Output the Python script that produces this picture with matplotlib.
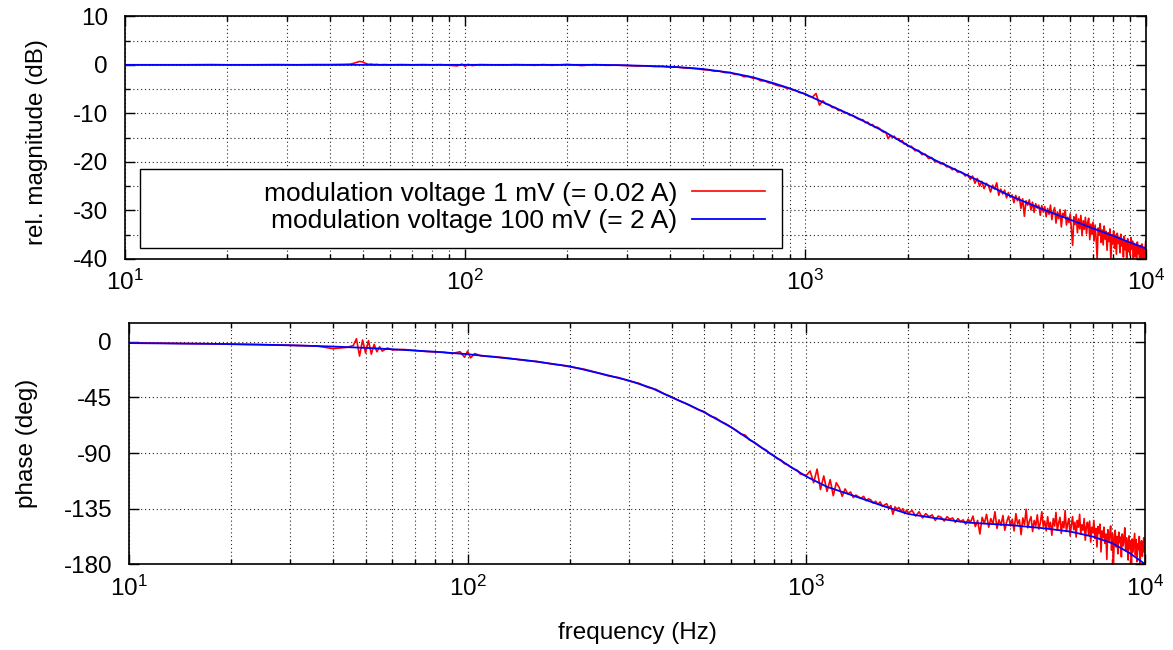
import matplotlib
matplotlib.use("Agg")
import matplotlib.pyplot as plt
from matplotlib.ticker import MultipleLocator, LogLocator, NullLocator, NullFormatter, LogFormatterSciNotation
from matplotlib.patches import Rectangle

plt.rcParams['font.family'] = ['Liberation Sans', 'DejaVu Sans']
plt.rcParams['mathtext.fontset'] = 'custom'
plt.rcParams['mathtext.rm'] = 'Liberation Sans'
plt.rcParams['mathtext.default'] = 'regular'
plt.rcParams['axes.unicode_minus'] = False

# ---------------- data ----------------
label_red = "modulation voltage 1 mV (= 0.02 A)"
label_blue = "modulation voltage 100 mV (= 2 A)"

freq_blue = [10, 20, 30, 40, 50, 60, 80, 100, 150, 200, 250, 300, 350, 400, 450, 500,
             600, 700, 800, 900, 1000, 1150, 1400, 1700, 2000, 2400, 3000, 4000, 5000,
             6000, 7000, 8000, 9000, 10000]
mag_blue = [0.0, 0.0, 0.0, 0.0, 0.0, 0.0, 0.0, 0.0, 0.0, 0.0, 0.0, -0.1, -0.25, -0.38, -0.6, -0.86,
            -1.6, -2.55, -3.7, -4.85, -6.05, -8.0, -10.7, -13.7, -16.6, -19.6, -22.8, -27.0, -29.8,
            -31.9, -33.7, -35.2, -36.6, -37.8]
phase_blue = [-1.0, -1.8, -2.8, -3.8, -4.9, -6.0, -8.0, -10.0, -15.0, -19.8, -26.0, -31.4, -37.5,
              -44.9, -51.0, -57.1, -69.2, -81.4, -92.2, -101.3, -109.0, -117.3, -125.2, -133.2,
              -139.3, -142.7, -146.3, -148.3, -150.8, -153.5, -157.6, -163.0, -171.0, -180.0]

freq_red_low = [10, 12, 15, 18, 20, 24, 28, 32, 36, 40, 44, 46, 47, 48, 49, 50, 51, 52, 53, 54,
                55, 56, 58, 60, 65, 70, 75, 80, 85, 90, 95, 98, 100, 102, 105, 110, 120, 130, 140,
                150, 160, 170, 180, 190, 200, 220, 240, 260, 280, 300, 320, 340, 360, 380, 400,
                420, 440, 460, 480, 500, 520, 540, 560, 580, 600, 620, 640, 660, 680, 700, 720,
                740, 760, 780, 800, 820, 840, 860, 880, 900, 920, 940, 960, 980]
mag_red_low = [0.0, 0.0, 0.0, 0.05, 0.0, 0.0, 0.05, 0.0, 0.05, 0.05, 0.1, 0.15, 0.3, 0.5, 0.7,
               0.6, 0.3, 0.1, 0.15, 0.05, 0.1, 0.0, 0.05, 0.0, 0.05, 0.0, 0.05, 0.0, 0.05, -0.1,
               -0.2, 0.15, -0.3, 0.1, -0.15, 0.05, 0.0, -0.05, 0.05, 0.0, -0.1, 0.05, -0.1, 0.0,
               0.1, -0.15, 0.05, -0.1, -0.05, -0.15, -0.25, -0.2, -0.35, -0.3, -0.5, -0.45, -0.65,
               -0.7, -0.8, -1.0, -1.05, -1.3, -1.3, -1.6, -1.6, -1.95, -2.0, -2.45, -2.4, -2.75,
               -2.85, -3.3, -3.3, -3.7, -3.8, -4.2, -4.35, -4.5, -4.8, -4.9, -5.2, -5.3, -5.7, -5.8]
phase_red_low = [-0.8, -1.0, -1.4, -1.6, -2.0, -2.2, -2.6, -3.0, -3.4, -5.5, -4.5, -3.0, 2.5,
                 -11.5, 1.5, -9.0, 1.0, -10.0, -2.0, -8.0, -4.0, -7.5, -5.0, -6.5, -6.2, -7.0,
                 -7.8, -8.2, -8.4, -9.5, -8.0, -12.5, -7.5, -13.0, -9.5, -11.5, -12.0, -13.0,
                 -14.2, -15.3, -15.8, -17.0, -18.2, -19.0, -20.2, -22.0, -24.8, -27.5, -29.0,
                 -31.8, -33.5, -36.8, -38.5, -42.0, -44.5, -47.5, -49.8, -52.5, -55.0, -56.5,
                 -60.0, -61.5, -64.5, -66.5, -69.0, -71.5, -74.5, -75.5, -79.5, -81.0, -83.5,
                 -86.0, -87.5, -90.5, -92.0, -94.5, -95.5, -98.5, -99.5, -101.5, -103.0, -104.0,
                 -107.0, -107.5]

freq_red_mid = [1000, 1025, 1050, 1075, 1100, 1125, 1150, 1175, 1200, 1225, 1250, 1275, 1300,
                1325, 1350, 1375, 1400, 1425, 1450, 1475, 1500, 1525, 1550, 1575, 1600, 1625,
                1650, 1675, 1700, 1725, 1750, 1775, 1800, 1825, 1850, 1875, 1900, 1925, 1950,
                1975, 2000]
mag_red_mid = [-6.0, -6.5, -6.6, -5.9, -8.3, -7.4, -8.1, -8.2, -8.8, -8.8, -9.4, -9.4, -9.9,
               -9.9, -10.4, -10.4, -10.8, -11.1, -11.3, -11.3, -11.9, -11.8, -12.4, -12.3, -12.9,
               -12.8, -13.1, -13.6, -13.9, -13.9, -15.2, -14.6, -14.9, -14.7, -15.3, -15.2,
               -15.8, -15.6, -16.3, -16.2, -16.8]
phase_red_mid = [-108.0, -104.5, -114.0, -103.0, -119.5, -108.5, -121.0, -111.5, -124.5,
                 -114.0, -118.0, -125.0, -119.0, -123.0, -121.5, -126.0, -124.0, -125.5, -126.5,
                 -125.0, -128.5, -127.0, -128.0, -130.5, -129.0, -131.5, -129.5, -133.0, -132.0,
                 -131.0, -134.5, -132.5, -139.5, -133.5, -135.5, -134.0, -137.0, -135.0, -139.0,
                 -136.0, -138.5]

freq_red_high = [2050, 2100, 2150, 2200, 2250, 2300, 2350, 2400, 2450, 2500, 2550, 2600, 2650,
                 2700, 2750, 2800, 2850, 2900, 2950, 3000, 3050, 3100, 3150, 3200, 3250, 3300,
                 3350, 3400, 3450, 3500, 3550, 3600, 3650, 3700, 3750, 3800, 3850, 3900, 3950,
                 4000, 4050, 4100, 4150, 4200, 4250, 4300, 4350, 4400, 4450, 4500, 4550, 4600,
                 4650, 4700, 4750, 4800, 4850, 4900, 4950, 5000,
                 5050, 5100, 5150, 5200, 5250, 5300, 5350, 5400, 5450, 5500, 5550, 5600, 5650,
                 5700, 5750, 5800, 5850, 5900, 5950, 6000, 6050, 6100, 6150, 6200, 6250, 6300,
                 6350, 6400, 6450, 6500, 6550, 6600, 6650, 6700, 6750, 6800, 6850, 6900, 6950,
                 7000, 7050, 7100, 7150, 7200, 7250, 7300, 7350, 7400, 7450, 7500, 7550, 7600,
                 7650, 7700, 7750, 7800, 7850, 7900, 7950, 8000, 8050, 8100, 8150, 8200, 8250,
                 8300, 8350, 8400, 8450, 8500, 8550, 8600, 8650, 8700, 8750, 8800, 8850, 8900,
                 8950, 9000, 9050, 9100, 9150, 9200, 9250, 9300, 9350, 9400, 9450, 9500, 9550,
                 9600, 9650, 9700, 9750, 9800, 9850, 9900, 9950, 10000]
mag_red_high = [-16.8, -17.7, -17.6, -18.5, -18.4, -19.3, -19.1, -19.9, -20.0, -20.4, -20.3,
                -21.0, -21.0, -21.6, -21.4, -22.1, -22.0, -22.3, -22.9, -22.6, -23.6, -22.9,
                -24.4, -23.4, -25.0, -24.0, -25.5, -24.4, -24.9, -26.2, -24.8, -25.6, -24.3,
                -26.9, -25.6, -26.6, -25.8, -27.4, -26.3, -27.3, -26.8, -28.4, -26.9, -28.0,
                -27.2, -29.6, -27.6, -31.2, -28.0, -28.9, -27.8, -29.9, -28.3, -30.4, -28.6,
                -29.5, -28.9, -31.0, -29.0, -30.3,
                -29.2, -31.3, -29.6, -30.8, -28.9, -31.9, -30.2, -29.4, -32.6, -30.3, -31.7,
                -29.8, -33.4, -30.6, -31.2, -29.9, -33.0, -31.4, -32.5, -30.7, -34.1, -37.2,
                -31.3, -32.9, -30.8, -34.6, -31.7, -33.8, -31.0, -35.2, -32.1, -33.9, -31.4,
                -34.8, -32.5, -31.6, -36.0, -32.8, -34.9, -32.4, -36.3, -33.0, -35.8, -39.9,
                -33.6, -35.1, -32.7, -36.6, -34.0, -37.1, -33.2, -35.9, -34.3, -38.2, -34.6,
                -36.4, -33.8, -40.6, -35.0, -36.9, -34.2, -37.8, -35.1, -39.0, -34.7, -36.8,
                -35.5, -38.7, -34.9, -37.3, -36.0, -39.6, -35.3, -38.1, -36.4, -40.8, -35.8,
                -38.5, -36.9, -39.2, -35.6, -38.0, -36.3, -41.0, -36.8, -39.4, -37.0, -40.3,
                -36.5, -38.9, -37.4, -41.2, -37.2, -39.8, -36.9, -40.5, -37.6, -41.5, -38.0,
                -36.4]
phase_red_high = [-136.5, -141.0, -137.5, -142.5, -139.0, -141.5, -140.0, -144.5, -141.0,
                  -142.0, -145.0, -141.5, -143.5, -142.5, -146.0, -143.0, -145.5, -144.0,
                  -147.5, -143.5, -146.0, -141.0, -149.5, -144.5, -155.5, -142.0, -147.0,
                  -139.5, -150.0, -143.0, -147.5, -137.5, -151.0, -144.0, -148.5, -140.5,
                  -152.5, -145.5, -141.0, -149.0, -143.5, -153.0, -139.0, -147.5, -144.0,
                  -156.0, -142.5, -148.0, -135.5, -150.5, -145.0, -141.5, -153.5, -144.5,
                  -149.0, -140.0, -151.5, -146.5, -137.5, -149.5,
                  -145.0, -153.0, -141.5, -150.5, -146.0, -156.5, -143.0, -149.0, -138.0,
                  -152.5, -146.5, -142.0, -155.0, -145.5, -150.5, -136.5, -153.5, -147.0,
                  -143.0, -157.0, -148.5, -141.5, -152.0, -146.0, -158.0, -144.5, -150.0,
                  -139.5, -155.5, -148.0, -152.5, -143.0, -160.5, -149.5, -146.0, -156.0,
                  -145.0, -162.0, -150.0, -154.5, -144.5, -159.0, -151.0, -166.0, -149.5,
                  -155.0, -147.5, -170.0, -153.0, -158.5, -150.0, -163.0, -155.5, -176.0,
                  -152.0, -161.5, -157.0, -149.0, -168.5, -155.0, -180.0, -159.5, -152.5,
                  -166.0, -157.5, -171.5, -154.0, -162.5, -158.0, -174.0, -155.5, -165.0,
                  -160.0, -150.5, -169.0, -158.5, -163.0, -176.5, -157.0, -167.5, -161.0,
                  -181.0, -159.5, -170.0, -162.5, -155.0, -172.5, -160.0, -178.0, -163.5,
                  -168.0, -157.5, -180.5, -165.0, -161.0, -173.5, -164.0, -158.5, -170.5,
                  -162.0]

freq_red = freq_red_low + freq_red_mid + freq_red_high
mag_red = mag_red_low + mag_red_mid + mag_red_high
phase_red = phase_red_low + phase_red_mid + phase_red_high

# ---------------- figure ----------------
fig = plt.figure(figsize=(11.73, 6.5), dpi=100)
ax1 = fig.add_axes([0.10631, 0.60154, 0.87042, 0.37338])
ax2 = fig.add_axes([0.10972, 0.13185, 0.86667, 0.37077])

FS = 17.5
FS_KEY = 19
grid_kw = dict(color='black', linestyle=(0, (1, 2.5)), linewidth=0.8, alpha=0.85)

for ax in (ax1, ax2):
    ax.plot(freq_red, mag_red if ax is ax1 else phase_red, color='#ff0000', lw=1.2,
            label=label_red, zorder=2)
    ax.plot(freq_blue, mag_blue if ax is ax1 else phase_blue, color='#0000ff', lw=1.3,
            label=label_blue, zorder=2.5)
    ax.set_xscale('log')
    ax.set_xlim(10, 10000)
    ax.xaxis.set_major_locator(LogLocator(base=10, numticks=10))
    ax.xaxis.set_minor_locator(LogLocator(base=10, subs=[2, 3, 4, 5, 6, 7, 8, 9], numticks=20))
    ax.xaxis.set_major_formatter(LogFormatterSciNotation())
    ax.xaxis.set_minor_formatter(NullFormatter())
    ax.tick_params(which='both', direction='in', top=True, right=True, labelsize=FS,
                   width=1.0, color='black')
    ax.tick_params(which='major', length=7, pad=8)
    ax.tick_params(which='minor', length=3.5)
    ax.tick_params(axis='y', which='major', pad=12)
    ax.set_axisbelow(True)
    ax.grid(True, which='both', **grid_kw)
    for s in ax.spines.values():
        s.set_linewidth(1.2)
        s.set_color('black')

ax1.set_ylim(-40, 10)
ax1.yaxis.set_major_locator(MultipleLocator(10))
ax1.yaxis.set_minor_locator(MultipleLocator(5))
ax1.set_ylabel("rel. magnitude (dB)", fontsize=FS, va='center')
ax1.yaxis.set_label_coords(-0.086, 0.48)

ax2.set_ylim(-180, 15)
ax2.yaxis.set_major_locator(MultipleLocator(45))
ax2.yaxis.set_minor_locator(NullLocator())
ax2.set_ylabel("phase (deg)", fontsize=FS, va='center')
ax2.yaxis.set_label_coords(-0.1, 0.5)
ax2.set_xlabel("frequency (Hz)", fontsize=FS, va='center')
ax2.xaxis.set_label_coords(0.5, -0.285)

# key box
ax1.add_patch(Rectangle((0.0153, 0.0441), 0.6281, 0.3255, transform=ax1.transAxes,
                        facecolor='white', edgecolor='black', linewidth=1.0, zorder=3))
leg = ax1.legend(loc='center right', bbox_to_anchor=(0.6276, 0.2122), frameon=False,
                 markerfirst=False, fontsize=FS_KEY, borderaxespad=0, borderpad=0,
                 handlelength=2.77, handletextpad=0.57, labelspacing=0.14)
leg.set_zorder(4)

fig.savefig("out.png", dpi=100)
